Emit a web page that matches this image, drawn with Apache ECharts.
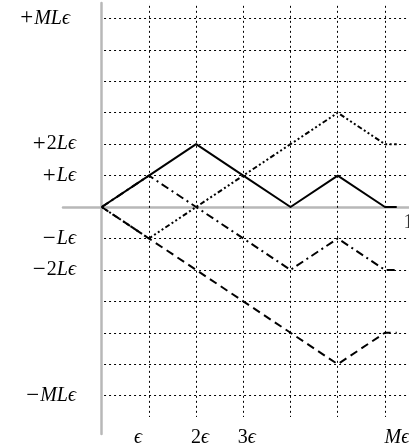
<!DOCTYPE html>
<html>
<head>
<meta charset="utf-8">
<script src="https://cdn.jsdelivr.net/npm/echarts@6/dist/echarts.min.js"></script>
<style>html,body{margin:0;padding:0;background:#fff;}#c{width:409px;height:448px;}</style>
</head>
<body>
<div id="c"></div>
<script>
// ---- data ----
const xSteps = [0, 1, 2, 3, 4, 5, 6, 6.25];
const pathSolid   = [0, 1, 2, 1, 0, 1, 0, 0];
const pathDashDot = [0, 1, 0, -1, -2, -1, -2, -2];
const pathDotted  = [0, -1, 0, 1, 2, 3, 2, 2];
const pathDashed  = [0, -1, -2, -3, -4, -5, -4, -4];

const xTickValues = [1, 2, 3, 6];
const xTickLabels = ['{i|ϵ}', '{n|2}{i|ϵ}', '{n|3}{i|ϵ}', '{i|Mϵ}'];
const xEndValue = 6.5;
const xEndLabel = '1';
const yTickValues = [6, 2, 1, -1, -2, -6];
const yTickLabels = ['{o|+}{i|MLϵ}', '{o|+}{n|2}{i|Lϵ}', '{o|+}{i|Lϵ}', '{o|−}{i|Lϵ}', '{o|−}{n|2}{i|Lϵ}', '{o|−}{i|MLϵ}'];
const gridXValues = [1, 2, 3, 4, 5, 6];
const gridYValues = [6, 5, 4, 3, 2, 1, -1, -2, -3, -4, -5, -6];

const serif = '"Liberation Serif","DejaVu Serif",serif';
const FS = 20;
const rich = {
  i: {fontFamily: serif, fontStyle: 'italic', fontSize: FS, color: '#000'},
  n: {fontFamily: serif, fontSize: FS, color: '#000'},
  o: {fontFamily: serif, fontSize: 23, color: '#000', padding: [0, 1, 0, 0]},
  sL22: {width: 22}, sR8: {width: 8}, sR7: {width: 7}, sR24: {width: 24}, sY6: {width: 6}
};
// horizontal nudges (spacers) for labels
const xLabelWrap = {1: s => s + '{sL22|}', 2: s => '{sR8|}' + s, 3: s => '{sR7|}' + s, 6: s => '{sR24|}' + s};
const yLabelWrap = {6: s => s + '{sY6|}'};

const XMIN = -0.82, XMAX = 6.51, YMIN = -7.22, YMAX = 6.49;

const chart = echarts.init(document.getElementById('c'), null, {renderer: 'canvas'});
const mk = (ys) => xSteps.map((x, i) => [x, ys[i]]);
const lineSeries = (ys, type, z) => ({
  type: 'line', data: mk(ys), symbol: 'none', z: z, silent: true,
  lineStyle: {color: '#000', width: 2, type: type}
});

const gridLines = [];
gridXValues.forEach(v => gridLines.push([{coord: [v, 6.4]}, {coord: [v, -6.68]}]));
gridYValues.forEach(v => gridLines.push([{coord: [0.05, v]}, {coord: [6.5, v]}]));

const noLine = {show: false, onZero: false};
chart.setOption({
  animation: false,
  grid: {left: 63, right: 0, top: 3, bottom: 14, containLabel: false, outerBoundsMode: 'none'},
  xAxis: [{
    type: 'value', min: XMIN, max: XMAX,
    axisLine: {onZero: true, lineStyle: {color: '#b8b8b8', width: 2.5}},
    axisTick: {show: false}, splitLine: {show: false}, axisLabel: {show: false}
  }, {
    type: 'value', min: XMIN, max: XMAX, position: 'bottom',
    axisLine: noLine, axisTick: {show: false}, splitLine: {show: false},
    axisLabel: {
      customValues: xTickValues, margin: -6,
      formatter: (v) => {
        const i = xTickValues.indexOf(v);
        return i < 0 ? '' : xLabelWrap[v](xTickLabels[i]);
      },
      rich: rich
    }
  }],
  yAxis: [{
    type: 'value', min: YMIN, max: YMAX,
    axisLine: {onZero: true, lineStyle: {color: '#b8b8b8', width: 2.5}},
    axisTick: {show: false}, splitLine: {show: false}, axisLabel: {show: false}
  }, {
    type: 'value', min: YMIN, max: YMAX, position: 'left',
    axisLine: noLine, axisTick: {show: false}, splitLine: {show: false},
    axisLabel: {
      customValues: yTickValues, margin: -13,
      formatter: (v) => {
        const i = yTickValues.indexOf(v);
        if (i < 0) return '';
        return yLabelWrap[v] ? yLabelWrap[v](yTickLabels[i]) : yTickLabels[i];
      },
      rich: rich
    }
  }],
  series: [
    {
      type: 'line', data: [], silent: true,
      markLine: {
        silent: true, symbol: 'none', animation: false,
        label: {show: false},
        lineStyle: {color: '#000', width: 1, type: [2, 3]},
        data: gridLines
      },
      z: 1
    },
    lineSeries(pathSolid, 'solid', 5),
    lineSeries(pathDashDot, [8, 4, 2, 4], 4),
    lineSeries(pathDotted, [2, 2.5, 2, 2.5, 2, 2.5, 5, 2.5], 3),
    lineSeries(pathDashed, [8, 5], 2),
    {
      type: 'scatter', data: [[xEndValue, 0]], symbolSize: 1, silent: true,
      itemStyle: {color: 'rgba(0,0,0,0)'},
      label: {show: true, position: 'bottom', distance: 5, formatter: xEndLabel,
        fontFamily: serif, fontSize: FS, color: '#000'}
    }
  ]
});
</script>
</body>
</html>
